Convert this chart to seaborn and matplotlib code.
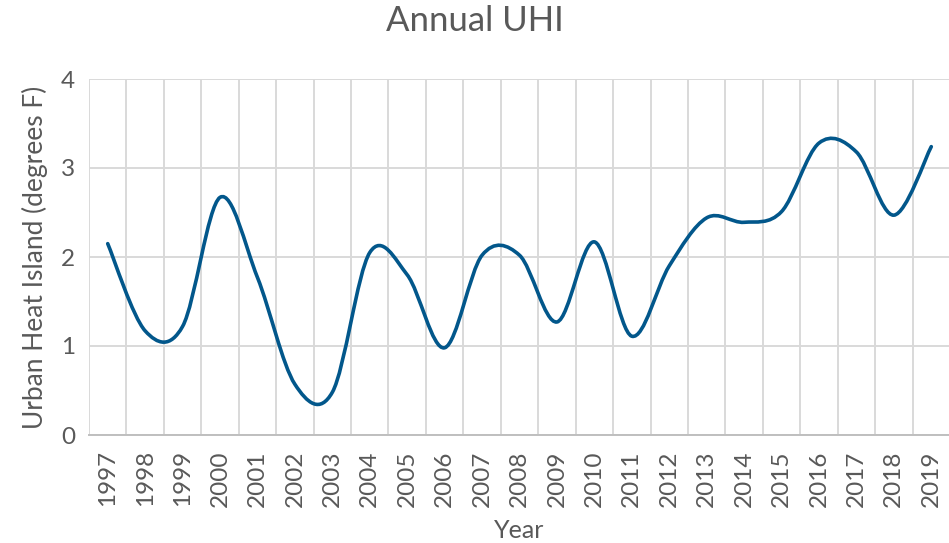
import numpy as np
import pandas as pd
import seaborn as sns
import matplotlib.pyplot as plt
from matplotlib.path import Path
from matplotlib.patches import PathPatch

# data
years = ["1997", "1998", "1999", "2000", "2001", "2002", "2003", "2004",
         "2005", "2006", "2007", "2008", "2009", "2010", "2011", "2012",
         "2013", "2014", "2015", "2016", "2017", "2018", "2019"]
uhi = [2.15, 1.17, 1.22, 2.67, 1.77, 0.57, 0.48, 2.05,
       1.80, 0.98, 2.02, 2.02, 1.27, 2.17, 1.11, 1.90,
       2.44, 2.39, 2.51, 3.28, 3.18, 2.47, 3.24]
y_ticks = [0, 1, 2, 3, 4]

text_col = "#595959"
line_col = "#02578b"
grid_col = "#d9d9d9"

df = pd.DataFrame({"pos": np.arange(len(years)), "uhi": uhi})

sns.set_theme(style="white")
plt.rcParams["font.family"] = ["Lato", "DejaVu Sans"]

fig = plt.figure(figsize=(9.49, 5.43), dpi=100)
ax = fig.add_axes([89 / 949, 108 / 543, 861 / 949, 356 / 543])

sns.lineplot(data=df, x="pos", y="uhi", ax=ax, color=line_col, linewidth=2.6)

# Excel-style smoothed line: swap the straight polyline for a Catmull-Rom bezier
line = ax.lines[0]
pts = line.get_xydata()
line.remove()
ext = np.vstack([pts[0], pts, pts[-1]])
verts = [pts[0]]
codes = [Path.MOVETO]
for i in range(1, len(ext) - 2):
    p0, p1, p2, p3 = ext[i - 1], ext[i], ext[i + 1], ext[i + 2]
    verts += [p1 + (p2 - p0) / 6, p2 - (p3 - p1) / 6, p2]
    codes += [Path.CURVE4] * 3
ax.add_patch(PathPatch(Path(verts, codes), facecolor="none", edgecolor=line_col,
                       linewidth=2.6, capstyle="round", joinstyle="round", zorder=3))

ax.set_xlim(-0.5, len(years) - 0.5)
ax.set_ylim(0, 4)
ax.set_xticks(np.arange(len(years)))
ax.set_xticklabels(years, rotation=90)
ax.set_xticks(np.arange(len(years) + 1) - 0.5, minor=True)
ax.set_yticks(y_ticks)
ax.set_yticklabels([str(t) for t in y_ticks])

ax.grid(axis="x", which="minor", color=grid_col, linewidth=1.4)
ax.grid(axis="y", which="major", color=grid_col, linewidth=1.4)
ax.grid(axis="x", which="major", visible=False)
ax.set_axisbelow(True)

for s in ["left", "top", "right"]:
    ax.spines[s].set_visible(False)
ax.spines["bottom"].set_color("#bfbfbf")
ax.spines["bottom"].set_linewidth(1.4)

ax.tick_params(axis="both", which="both", length=0, labelsize=17.5, labelcolor=text_col)
ax.tick_params(axis="x", pad=11)
ax.tick_params(axis="y", pad=10)

ax.set_xlabel("Year", fontsize=18, color=text_col, labelpad=9)
ax.set_ylabel("Urban Heat Island (degrees F)", fontsize=19, color=text_col, labelpad=9)
fig.suptitle("Annual UHI", fontsize=25, color=text_col, y=0.99)

fig.savefig("out.png", dpi=100)
